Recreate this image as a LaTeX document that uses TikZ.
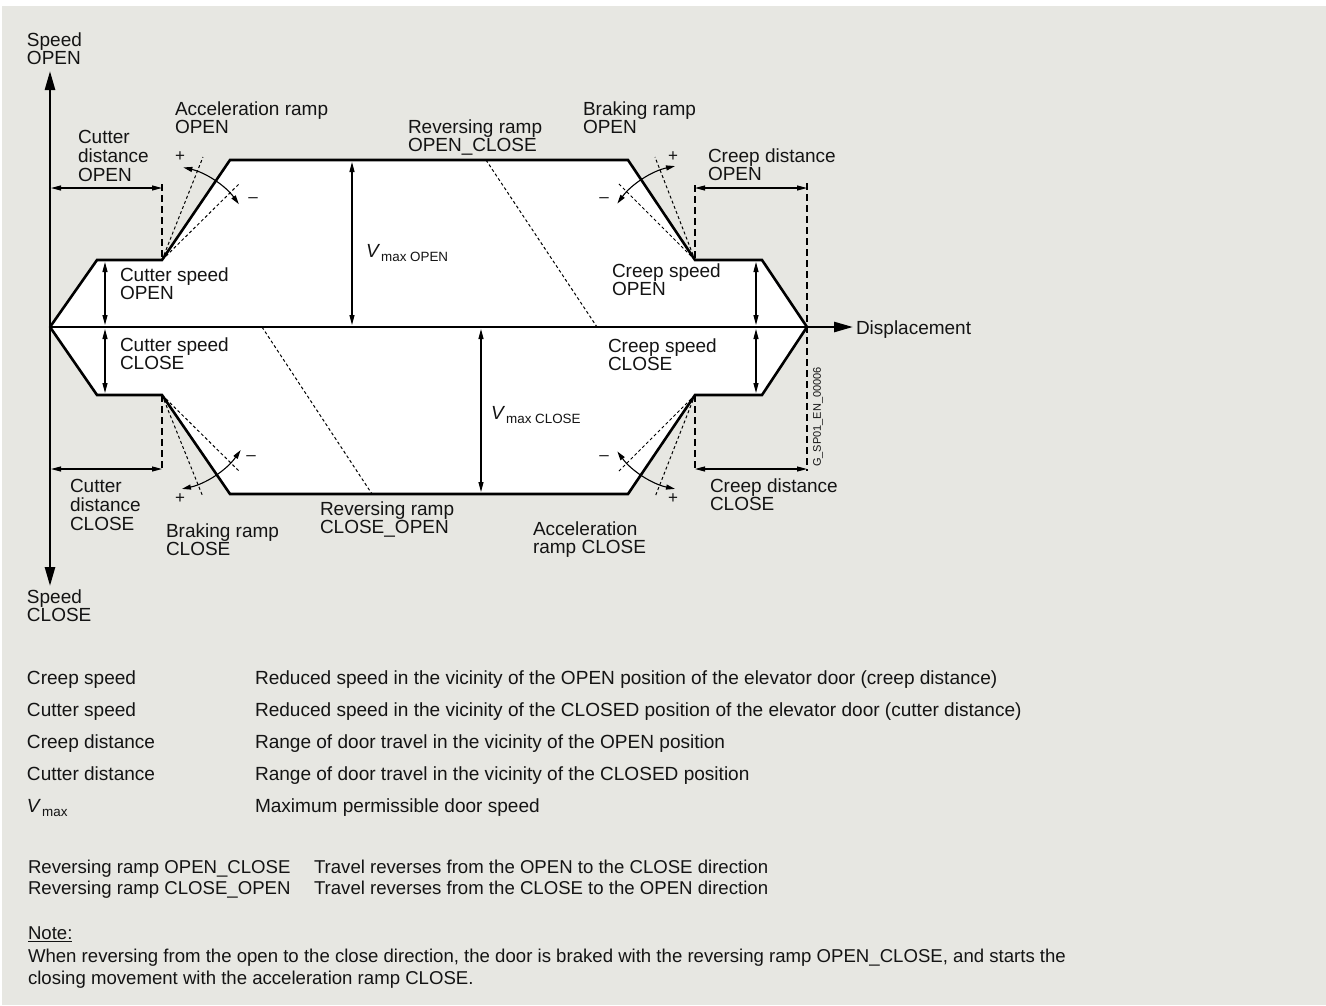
\documentclass[tikz,border=0pt]{standalone}
\usepackage{fontspec}
\setmainfont{Liberation Sans}
\usetikzlibrary{arrows.meta,calc}
\definecolor{bg}{RGB}{231,231,226}
\definecolor{txt}{RGB}{20,20,20}
\newcommand{\ml}[1]{\begin{tabular}[t]{@{}l@{}}#1\end{tabular}}
\newcommand{\vsub}[1]{\textit{V}\kern1pt\raisebox{-4.5pt}{\fontsize{13.4}{14}\selectfont #1}}
\begin{document}
\begin{tikzpicture}[x=1pt,y=-1pt,
 lbl/.style={anchor=base west,inner sep=0pt,outer sep=0pt,font=\fontsize{19}{18.5}\selectfont,text=txt},
 leg/.style={anchor=base west,inner sep=0pt,outer sep=0pt,font=\fontsize{18.6}{22}\selectfont,text=txt},
 legb/.style={leg,font=\fontsize{19.05}{22}\selectfont},
 pm/.style={inner sep=0pt,font=\fontsize{17}{17}\selectfont,text=txt},
 prof/.style={line width=2.6pt,line join=miter,line cap=butt},
 axisline/.style={line width=2.6pt},
 dim/.style={line width=1.1pt,{Triangle[length=10pt,width=5pt]}-{Triangle[length=10pt,width=5pt]}},
 guide/.style={line width=1.2pt,dash pattern=on 7pt off 4pt},
 fine/.style={line width=1pt,dash pattern=on 3pt off 2.5pt},
 arcarr/.style={line width=1.1pt,{Triangle[length=9pt,width=5pt]}-{Triangle[length=9pt,width=5pt]}},
]
\useasboundingbox (0,0) rectangle (1326,1005);
\fill[white] (0,0) rectangle (1326,1005);
\fill[bg] (2,6) rectangle (1326,1005);

% profile corners
\coordinate (O) at (50,327);
\coordinate (E) at (807,327);
\coordinate (uL1) at (97,260);
\coordinate (uL2) at (162,260);
\coordinate (uL3) at (230,160);
\coordinate (uR3) at (628,160);
\coordinate (uR2) at (695,260);
\coordinate (uR1) at (762,260);
\coordinate (lL1) at (97,395);
\coordinate (lL2) at (162,395);
\coordinate (lL3) at (230,494);
\coordinate (lR3) at (628,494);
\coordinate (lR2) at (695,395);
\coordinate (lR1) at (762,395);

\fill[white] (O) -- (uL1) -- (uL2) -- (uL3) -- (uR3) -- (uR2) -- (uR1) -- (E)
  -- (lR1) -- (lR2) -- (lR3) -- (lL3) -- (lL2) -- (lL1) -- cycle;

% reversing ramps
\coordinate (rv1a) at (486,160);
\coordinate (rv1b) at (597,327);
\coordinate (rv2a) at (262,327);
\coordinate (rv2b) at (372,494);
\draw[fine] (rv1a) -- (rv1b);
\draw[fine] (rv2a) -- (rv2b);

% ramp variations
\coordinate (fa1) at (203,157); \coordinate (fa2) at (240,183);
\coordinate (fb1) at (655,157); \coordinate (fb2) at (618,183);
\coordinate (fc1) at (203,497); \coordinate (fc2) at (240,472);
\coordinate (fd1) at (655,497); \coordinate (fd2) at (618,472);
\draw[fine] (uL2) -- (fa1); \draw[fine] (uL2) -- (fa2);
\draw[fine] (uR2) -- (fb1); \draw[fine] (uR2) -- (fb2);
\draw[fine] (lL2) -- (fc1); \draw[fine] (lL2) -- (fc2);
\draw[fine] (lR2) -- (fd1); \draw[fine] (lR2) -- (fd2);

% guides
\coordinate (g1) at (162,184);
\coordinate (g2) at (162,471);
\coordinate (g3) at (695,185);
\coordinate (g4) at (695,471);
\coordinate (g5) at (807,183);
\coordinate (g6) at (807,471);
\draw[guide] (g1) -- (uL2);
\draw[guide] (lL2) -- (g2);
\draw[guide] (g3) -- (uR2);
\draw[guide] (lR2) -- (g4);
\draw[guide] (g5) -- (g6);

% profile outline
\draw[prof] (O) -- (uL1) -- (uL2) -- (uL3) -- (uR3) -- (uR2) -- (uR1) -- (E);
\draw[prof] (O) -- (lL1) -- (lL2) -- (lL3) -- (lR3) -- (lR2) -- (lR1) -- (E);

% axes
\coordinate (ytop) at (50,71);
\coordinate (ybot) at (50,586);
\coordinate (xend) at (853,327);
\draw[axisline,{Triangle[length=19pt,width=10pt]}-{Triangle[length=19pt,width=10pt]}] (ybot) -- (ytop);
\draw[axisline,-{Triangle[length=19pt,width=10pt]}] (O) -- (xend);

% distance dimension arrows
\coordinate (d1a) at (51,188); \coordinate (d1b) at (162,188);
\coordinate (d2a) at (51,469); \coordinate (d2b) at (162,469);
\coordinate (d3a) at (695,188); \coordinate (d3b) at (807,188);
\coordinate (d4a) at (695,469); \coordinate (d4b) at (807,469);
\draw[dim] (d1a) -- (d1b);
\draw[dim] (d2a) -- (d2b);
\draw[dim] (d3a) -- (d3b);
\draw[dim] (d4a) -- (d4b);

% speed dimension arrows
\coordinate (s1a) at (105,262); \coordinate (s1b) at (105,325);
\coordinate (s2a) at (105,329); \coordinate (s2b) at (105,393);
\coordinate (s3a) at (352,162); \coordinate (s3b) at (352,325);
\coordinate (s4a) at (481,329); \coordinate (s4b) at (481,492);
\coordinate (s5a) at (756,262); \coordinate (s5b) at (756,325);
\coordinate (s6a) at (756,329); \coordinate (s6b) at (756,393);
\draw[dim] (s1a) -- (s1b);
\draw[dim] (s2a) -- (s2b);
\draw[dim] (s3a) -- (s3b);
\draw[dim] (s4a) -- (s4b);
\draw[dim] (s5a) -- (s5b);
\draw[dim] (s6a) -- (s6b);

% ramp arcs
\draw[arcarr] ($(uL2)+(-77:95)$) arc[start angle=-77,end angle=-36,radius=95];
\draw[arcarr] ($(uR2)+(-102:96)$) arc[start angle=-102,end angle=-144,radius=96];
\draw[arcarr] ($(lL2)+(78:96)$) arc[start angle=78,end angle=35,radius=96];
\draw[arcarr] ($(lR2)+(102:96)$) arc[start angle=102,end angle=144,radius=96];

% plus / minus
\node[pm] (p1) at (180,157) {+};
\node[pm] (m1) at (253,200) {–};
\node[pm] (p2) at (673,157) {+};
\node[pm] (m2) at (604,200) {–};
\node[pm] (p3) at (180,499) {+};
\node[pm] (m3) at (251,458) {–};
\node[pm] (p4) at (673,499) {+};
\node[pm] (m4) at (604,458) {–};

% diagram labels
\node[lbl] (spo) at (27,46) {\ml{Speed\\OPEN}};
\node[lbl] (spc) at (27,603) {\ml{Speed\\CLOSE}};
\node[lbl] (acco) at (175,115) {\ml{Acceleration ramp\\OPEN}};
\node[lbl] (cdo) at (78,143) {\ml{Cutter\\distance\\OPEN}};
\node[lbl] (rvo) at (408,133) {\ml{Reversing ramp\\OPEN\_CLOSE}};
\node[lbl] (bro) at (583,115) {\ml{Braking ramp\\OPEN}};
\node[lbl] (crdo) at (708,162) {\ml{Creep distance\\OPEN}};
\node[lbl] (cso) at (120,281) {\ml{Cutter speed\\OPEN}};
\node[lbl] (vmo) at (366,257) {\vsub{max OPEN}};
\node[lbl] (crso) at (612,277) {\ml{Creep speed\\OPEN}};
\node[lbl] (disp) at (856,334) {Displacement};
\node[lbl] (csc) at (120,351) {\ml{Cutter speed\\CLOSE}};
\node[lbl] (crsc) at (608,352) {\ml{Creep speed\\CLOSE}};
\node[lbl] (vmc) at (491,419) {\vsub{max CLOSE}};
\node[lbl] (cdc) at (70,492) {\ml{Cutter\\distance\\CLOSE}};
\node[lbl] (brc) at (166,537) {\ml{Braking ramp\\CLOSE}};
\node[lbl] (rvc) at (320,515) {\ml{Reversing ramp\\CLOSE\_OPEN}};
\node[lbl] (acc) at (533,535) {\ml{Acceleration\\ramp CLOSE}};
\node[lbl] (crdc) at (710,492) {\ml{Creep distance\\CLOSE}};
\node[inner sep=0pt,font=\fontsize{11}{11}\selectfont,text=txt,rotate=90] (code) at (818,417) {G\_SP01\_EN\_00006};

% legend
\node[legb] (k1) at (27,684) {Creep speed};
\node[legb] (v1) at (255,684) {Reduced speed in the vicinity of the OPEN position of the elevator door (creep distance)};
\node[legb] (k2) at (27,716) {Cutter speed};
\node[legb] (v2) at (255,716) {Reduced speed in the vicinity of the CLOSED position of the elevator door (cutter distance)};
\node[legb] (k3) at (27,748) {Creep distance};
\node[legb] (v3) at (255,748) {Range of door travel in the vicinity of the OPEN position};
\node[legb] (k4) at (27,780) {Cutter distance};
\node[legb] (v4) at (255,780) {Range of door travel in the vicinity of the CLOSED position};
\node[legb] (k5) at (27,812) {\vsub{max}};
\node[legb] (v5) at (255,812) {Maximum permissible door speed};
\node[leg] (k6) at (28,873) {Reversing ramp OPEN\_CLOSE};
\node[leg] (v6) at (314,873) {Travel reverses from the OPEN to the CLOSE direction};
\node[leg] (k7) at (28,894.5) {Reversing ramp CLOSE\_OPEN};
\node[leg] (v7) at (314,894.5) {Travel reverses from the CLOSE to the OPEN direction};
\node[leg] (note) at (28,939.5) {\underline{Note:}};
\node[leg] (nt) at (28,962.5) {\ml{When reversing from the open to the close direction, the door is braked with the reversing ramp OPEN\_CLOSE, and starts the\\closing movement with the acceleration ramp CLOSE.}};
\end{tikzpicture}
\end{document}
